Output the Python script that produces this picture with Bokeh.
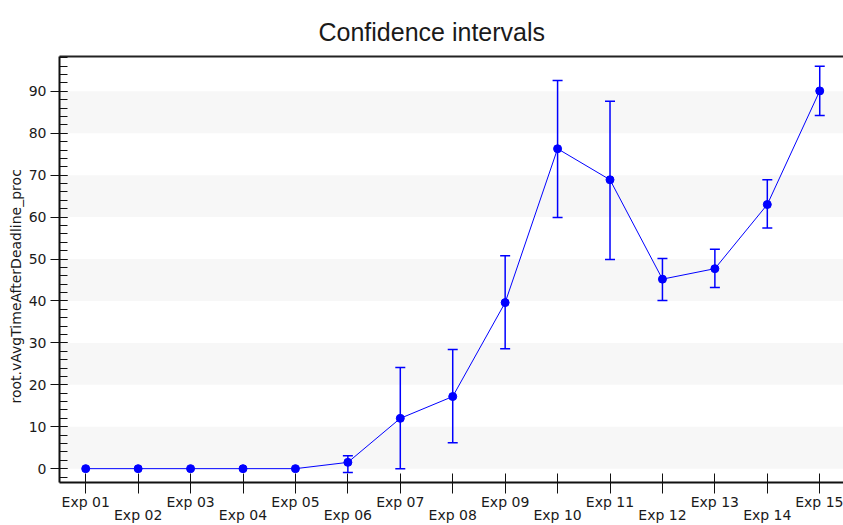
from bokeh.plotting import figure
from bokeh.models import (ColumnDataSource, Whisker, TeeHead, FixedTicker, LinearAxis,
                          Title, Range1d)
from bokeh.embed import file_html
from bokeh.resources import INLINE

# ---- data ----
categories = ["Exp 01", "Exp 02", "Exp 03", "Exp 04", "Exp 05", "Exp 06", "Exp 07", "Exp 08",
              "Exp 09", "Exp 10", "Exp 11", "Exp 12", "Exp 13", "Exp 14", "Exp 15"]
mean_vals = [0, 0, 0, 0, 0, 1.5, 12.0, 17.2, 39.6, 76.3, 68.9, 45.2, 47.7, 63.0, 90.1]
upper_vals = [0, 0, 0, 0, 0, 3.1, 24.1, 28.4, 50.8, 92.6, 87.6, 50.1, 52.3, 68.9, 96.0]
lower_vals = [0, 0, 0, 0, 0, -0.9, 0.0, 6.2, 28.6, 59.9, 49.9, 40.1, 43.2, 57.4, 84.2]
y_major_ticks = [0, 10, 20, 30, 40, 50, 60, 70, 80, 90]
y_minor_ticks = list(range(-2, 100, 2))
y_axis_title = "root.vAvgTimeAfterDeadline_proc"

xs = [i + 1 for i in range(len(categories))]

# ---- layout constants ----
W, H = 843, 525
B_LEFT, B_TOP, B_BOTTOM = 59, 56, 43
frame_w = W - B_LEFT
px_per_cat = 52.43
x_lo = 0.5
x_hi = x_lo + frame_w / px_per_cat
y_lo, y_hi = -3.3, 98.3

BLUE = "#0000ff"
TXT = "#1a1a1a"
FONT = "DejaVu Sans"

p = figure(width=W, height=H, x_range=Range1d(x_lo, x_hi), y_range=Range1d(y_lo, y_hi),
           output_backend="svg", toolbar_location=None,
           min_border_left=B_LEFT, min_border_right=0, min_border_top=B_TOP,
           min_border_bottom=B_BOTTOM, outline_line_color=None,
           background_fill_color="white", border_fill_color="white",
           x_axis_location=None, y_axis_location=None)

# title
p.title.text = "Confidence intervals"
p.title.text_font = "Liberation Sans"
p.title.text_font_size = "25px"
p.title.text_font_style = "normal"
p.title.text_color = TXT
p.title.align = "left"
p.title.offset = 259
p.title.standoff = 21

yticker = FixedTicker(ticks=y_major_ticks, minor_ticks=y_minor_ticks)
xticker = FixedTicker(ticks=xs, minor_ticks=[])

# grid bands
p.xgrid.grid_line_color = None
p.ygrid.grid_line_color = None
p.ygrid.ticker = yticker
p.ygrid.band_fill_color = "#f7f7f7"
p.ygrid.band_fill_alpha = 1.0

# left axis
yaxis = LinearAxis(ticker=yticker)
yaxis.axis_line_width = 2
yaxis.axis_line_color = "#111111"
yaxis.major_tick_in = 8
yaxis.major_tick_out = 9
yaxis.minor_tick_in = 8
yaxis.minor_tick_out = 0
yaxis.major_tick_line_color = "#111111"
yaxis.minor_tick_line_color = "#111111"
yaxis.major_label_standoff = 4
yaxis.major_label_text_font = FONT
yaxis.major_label_text_font_size = "14px"
yaxis.major_label_text_color = TXT
p.add_layout(yaxis, "left")

# y axis title as a side title (lets it sit off-centre like the reference)
p.add_layout(Title(text=y_axis_title, align="left", offset=79, text_font=FONT,
                   text_font_size="14px", text_font_style="normal", text_color=TXT,
                   standoff=4), "left")

# bottom axis (odd labels)
odd_over = {x: (c if i % 2 == 0 else "") for i, (x, c) in enumerate(zip(xs, categories))}
xaxis = LinearAxis(ticker=xticker, major_label_overrides=odd_over)
xaxis.axis_line_width = 2
xaxis.axis_line_color = "#111111"
xaxis.major_tick_in = 9
xaxis.major_tick_out = 11
xaxis.minor_tick_in = 0
xaxis.minor_tick_out = 0
xaxis.major_tick_line_color = "#111111"
xaxis.major_label_standoff = 0
xaxis.major_label_text_font = FONT
xaxis.major_label_text_font_size = "14px"
xaxis.major_label_text_color = TXT
p.add_layout(xaxis, "below")

# second row of labels (even categories)
even_over = {x: (c if i % 2 == 1 else "") for i, (x, c) in enumerate(zip(xs, categories))}
xaxis2 = LinearAxis(ticker=xticker, major_label_overrides=even_over)
xaxis2.axis_line_color = None
xaxis2.major_tick_line_color = None
xaxis2.minor_tick_line_color = None
xaxis2.major_tick_in = 0
xaxis2.major_tick_out = 0
xaxis2.minor_tick_in = 0
xaxis2.minor_tick_out = 0
xaxis2.major_label_standoff = -6
xaxis2.major_label_text_font = FONT
xaxis2.major_label_text_font_size = "14px"
xaxis2.major_label_text_color = TXT
p.add_layout(xaxis2, "below")

# top border
top_axis = LinearAxis(ticker=FixedTicker(ticks=[]), major_tick_in=0, major_tick_out=0,
                      minor_tick_in=0, minor_tick_out=0, axis_line_width=2,
                      axis_line_color="#222222", major_label_text_font_size="0px")
p.add_layout(top_axis, "above")

# error bars
err_rows = [i for i in range(len(categories)) if upper_vals[i] > lower_vals[i]]
err_src = ColumnDataSource(dict(x=[xs[i] for i in err_rows],
                                upper=[upper_vals[i] for i in err_rows],
                                lower=[lower_vals[i] for i in err_rows]))
p.add_layout(Whisker(source=err_src, base="x", upper="upper", lower="lower",
                     dimension="height", line_color=BLUE, line_width=1.5,
                     upper_head=TeeHead(size=10, line_color=BLUE, line_width=1.5),
                     lower_head=TeeHead(size=10, line_color=BLUE, line_width=1.5)))

# line and points
src = ColumnDataSource(dict(x=xs, y=mean_vals))
p.line("x", "y", source=src, line_color=BLUE, line_width=1)
p.scatter("x", "y", source=src, size=8, fill_color=BLUE, line_color=BLUE)

open("out.html", "w").write(file_html(p, INLINE))
